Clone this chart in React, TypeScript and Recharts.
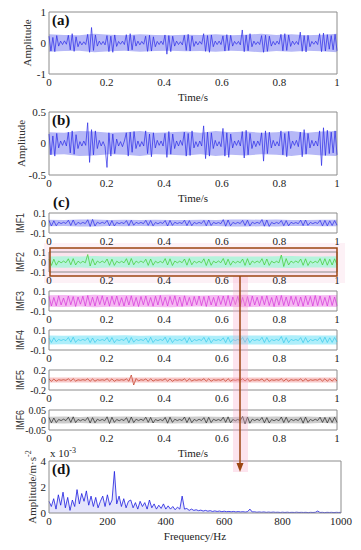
import { ComposedChart, Line, Area, XAxis, YAxis, ReferenceArea } from "recharts";

const serif = "'Liberation Serif', 'Times New Roman', serif";
const sans = "'Liberation Sans', Arial, sans-serif";

const timeTicks = [0, 0.2, 0.4, 0.6, 0.8, 1];
const freqTicks = [0, 200, 400, 600, 800, 1000];

// (a) raw signal, 15 impact bursts per second (one row per burst)
const sigA = [
  0.22, -0.26, 0.18, -0.28, 0.24, -0.1, 0.06, -0.05, 0.07, -0.04,
  0.25, -0.22, 0.3, -0.27, 0.2, -0.12, 0.05, -0.06, 0.04, -0.05,
  0.28, -0.3, 0.5, -0.24, 0.26, -0.1, 0.06, -0.05, 0.05, -0.06,
  0.24, -0.28, 0.22, -0.3, 0.26, -0.11, 0.05, -0.04, 0.06, -0.05,
  0.27, -0.25, 0.3, -0.22, 0.24, -0.1, 0.06, -0.06, 0.05, -0.04,
  0.22, -0.27, 0.25, -0.26, 0.2, -0.12, 0.05, -0.05, 0.06, -0.05,
  0.26, -0.36, 0.24, -0.28, 0.22, -0.1, 0.06, -0.05, 0.04, -0.06,
  0.25, -0.24, 0.28, -0.26, 0.23, -0.11, 0.05, -0.06, 0.05, -0.04,
  0.3, -0.27, 0.24, -0.3, 0.26, -0.12, 0.06, -0.05, 0.06, -0.05,
  0.23, -0.26, 0.27, -0.24, 0.25, -0.1, 0.05, -0.04, 0.05, -0.06,
  0.42, -0.28, 0.26, -0.25, 0.3, -0.12, 0.06, -0.05, 0.04, -0.05,
  0.24, -0.3, 0.25, -0.27, 0.22, -0.1, 0.05, -0.06, 0.06, -0.04,
  0.28, -0.25, 0.3, -0.24, 0.26, -0.11, 0.06, -0.05, 0.05, -0.05,
  0.35, -0.27, 0.24, -0.29, 0.25, -0.12, 0.05, -0.04, 0.06, -0.05,
  0.3, -0.28, 0.32, -0.26, 0.27, -0.2, 0.24, -0.22, 0.28, -0.25,
];
const envA = [0.28, 0.26, 0.25, 0.3, 0.27, 0.25, 0.28, 0.26, 0.25, 0.27, 0.26, 0.28, 0.25, 0.27, 0.3, 0.26, 0.28, 0.25, 0.27, 0.3];

// (b) denoised signal
const sigB = [
  0.15, -0.18, 0.12, -0.2, 0.16, -0.07, 0.04, -0.03, 0.05, -0.04,
  0.18, -0.15, 0.2, -0.17, 0.14, -0.08, 0.03, -0.04, 0.04, -0.03,
  0.33, -0.3, 0.22, -0.18, 0.2, -0.08, 0.05, -0.04, 0.03, -0.05,
  -0.38, 0.17, -0.2, 0.15, -0.16, 0.07, -0.04, 0.03, -0.05, 0.04,
  0.17, -0.2, 0.18, -0.14, 0.19, -0.08, 0.04, -0.05, 0.03, -0.04,
  0.2, -0.16, 0.15, -0.21, 0.17, -0.07, 0.05, -0.03, 0.04, -0.04,
  0.16, -0.22, 0.19, -0.17, 0.15, -0.08, 0.04, -0.04, 0.05, -0.03,
  0.18, -0.2, 0.16, -0.19, 0.2, -0.07, 0.03, -0.05, 0.04, -0.04,
  0.28, -0.24, 0.18, -0.2, 0.17, -0.08, 0.05, -0.04, 0.03, -0.05,
  0.24, -0.2, 0.17, -0.22, 0.15, -0.07, 0.04, -0.03, 0.05, -0.04,
  0.19, -0.23, 0.21, -0.18, 0.16, -0.08, 0.04, -0.05, 0.04, -0.03,
  0.17, -0.28, 0.2, -0.16, 0.18, -0.07, 0.05, -0.04, 0.03, -0.04,
  0.2, -0.18, 0.16, -0.21, 0.19, -0.08, 0.04, -0.03, 0.05, -0.05,
  0.18, -0.21, 0.22, -0.17, 0.16, -0.07, 0.05, -0.04, 0.04, -0.04,
  0.2, -0.35, 0.25, -0.19, 0.21, -0.16, 0.18, -0.15, 0.2, -0.18,
];
const envB = [0.18, 0.17, 0.2, 0.19, 0.17, 0.18, 0.2, 0.17, 0.18, 0.19, 0.17, 0.2, 0.18, 0.19, 0.17, 0.18, 0.2, 0.17, 0.19, 0.2];

// (c) IMF components
const imf1 = [
  0.025, -0.03, 0.022, -0.028, 0.008, -0.006, 0.007, -0.005,
  0.028, -0.025, 0.03, -0.022, 0.007, -0.008, 0.006, -0.006,
  0.032, -0.035, 0.036, -0.03, 0.008, -0.006, 0.007, -0.005,
  0.026, -0.028, 0.024, -0.03, 0.006, -0.007, 0.005, -0.006,
  0.024, -0.026, 0.028, -0.022, 0.007, -0.006, 0.006, -0.007,
  0.027, -0.024, 0.025, -0.028, 0.006, -0.008, 0.007, -0.005,
  0.025, -0.03, 0.026, -0.024, 0.008, -0.006, 0.005, -0.006,
  0.028, -0.026, 0.024, -0.027, 0.006, -0.007, 0.006, -0.005,
  0.026, -0.028, 0.03, -0.025, 0.007, -0.006, 0.005, -0.007,
  0.034, -0.032, 0.03, -0.028, 0.006, -0.007, 0.006, -0.006,
  0.027, -0.025, 0.028, -0.03, 0.008, -0.006, 0.007, -0.005,
  0.035, -0.032, 0.03, -0.034, 0.006, -0.008, 0.006, -0.006,
  0.025, -0.027, 0.024, -0.028, 0.007, -0.006, 0.005, -0.007,
  0.028, -0.026, 0.03, -0.024, 0.006, -0.007, 0.006, -0.005,
  0.027, -0.029, 0.026, -0.028, 0.022, -0.025, 0.024, -0.022,
];
const env1 = [0.032, 0.03, 0.034, 0.036, 0.03, 0.032, 0.03, 0.033, 0.03, 0.031, 0.032, 0.03, 0.034, 0.036, 0.032, 0.034, 0.031, 0.03, 0.032, 0.033];

const imf2 = [
  0.03, -0.034, 0.028, -0.032, 0.01, -0.008, 0.009, -0.007,
  0.032, -0.028, 0.034, -0.03, 0.008, -0.01, 0.007, -0.008,
  0.075, -0.04, 0.032, -0.03, 0.01, -0.008, 0.009, -0.007,
  0.03, -0.033, 0.028, -0.034, 0.008, -0.009, 0.007, -0.008,
  0.033, -0.03, 0.035, -0.028, 0.009, -0.008, 0.01, -0.007,
  0.028, -0.034, 0.03, -0.032, 0.008, -0.01, 0.007, -0.009,
  0.034, -0.03, 0.032, -0.035, 0.01, -0.008, 0.008, -0.007,
  0.03, -0.032, 0.034, -0.028, 0.008, -0.009, 0.007, -0.008,
  0.032, -0.035, 0.03, -0.033, 0.009, -0.008, 0.01, -0.007,
  0.035, -0.03, 0.028, -0.032, 0.008, -0.01, 0.007, -0.008,
  0.03, -0.034, 0.033, -0.03, 0.01, -0.008, 0.009, -0.007,
  0.033, -0.03, 0.03, -0.034, 0.008, -0.009, 0.007, -0.008,
  0.07, -0.045, 0.034, -0.03, 0.009, -0.008, 0.01, -0.007,
  0.03, -0.033, 0.032, -0.035, 0.008, -0.01, 0.007, -0.008,
  0.034, -0.03, 0.033, -0.032, 0.028, -0.03, 0.032, -0.028,
];
const env2 = [0.055, 0.058, 0.054, 0.06, 0.056, 0.055, 0.058, 0.054, 0.057, 0.055, 0.056, 0.058, 0.054, 0.056, 0.055, 0.057, 0.06, 0.055, 0.056, 0.058];

const imf3 = [
  0.045, -0.05, 0.035, -0.048, 0.052, -0.04, 0.03, -0.046,
  0.05, -0.038, 0.044, -0.055, 0.04, -0.032, 0.048, -0.05,
  0.055, -0.045, 0.038, -0.05, 0.046, -0.036, 0.052, -0.042,
  0.04, -0.052, 0.048, -0.035, 0.05, -0.045, 0.034, -0.05,
  0.046, -0.04, 0.052, -0.048, 0.036, -0.055, 0.045, -0.038,
  0.05, -0.046, 0.035, -0.052, 0.048, -0.04, 0.055, -0.045,
  0.038, -0.05, 0.046, -0.036, 0.052, -0.048, 0.04, -0.054,
  0.052, -0.042, 0.036, -0.05, 0.045, -0.038, 0.05, -0.046,
  0.044, -0.055, 0.05, -0.04, 0.036, -0.05, 0.048, -0.035,
  0.05, -0.045, 0.055, -0.048, 0.04, -0.036, 0.046, -0.052,
  0.036, -0.05, 0.045, -0.052, 0.05, -0.04, 0.038, -0.048,
  0.048, -0.038, 0.052, -0.045, 0.035, -0.055, 0.05, -0.042,
  0.055, -0.046, 0.04, -0.05, 0.048, -0.036, 0.044, -0.05,
  0.04, -0.052, 0.05, -0.038, 0.045, -0.05, 0.055, -0.046,
  0.05, -0.044, 0.036, -0.05, 0.052, -0.045, 0.04, -0.048,
];
const env3 = [0.058, 0.06, 0.056, 0.062, 0.058, 0.06, 0.057, 0.06, 0.062, 0.058, 0.056, 0.06, 0.058, 0.062, 0.057, 0.06, 0.058, 0.061, 0.057, 0.06];

const imf4 = [
  0.02, -0.025, 0.022, -0.018, 0.006, -0.005, 0.005, -0.006,
  0.025, -0.022, 0.028, -0.024, 0.005, -0.006, 0.006, -0.005,
  0.022, -0.026, 0.02, -0.025, 0.006, -0.005, 0.005, -0.006,
  0.026, -0.02, 0.024, -0.027, 0.005, -0.006, 0.006, -0.005,
  0.024, -0.028, 0.025, -0.022, 0.006, -0.005, 0.005, -0.006,
  0.02, -0.024, 0.027, -0.025, 0.005, -0.006, 0.006, -0.005,
  0.028, -0.025, 0.022, -0.026, 0.006, -0.005, 0.005, -0.006,
  0.023, -0.027, 0.025, -0.02, 0.005, -0.006, 0.006, -0.005,
  0.026, -0.022, 0.024, -0.028, 0.006, -0.005, 0.005, -0.006,
  0.022, -0.026, 0.028, -0.024, 0.005, -0.006, 0.006, -0.005,
  0.025, -0.023, 0.022, -0.026, 0.006, -0.005, 0.005, -0.006,
  0.027, -0.025, 0.026, -0.022, 0.005, -0.006, 0.006, -0.005,
  0.035, -0.028, 0.024, -0.026, 0.006, -0.005, 0.005, -0.006,
  0.024, -0.027, 0.025, -0.023, 0.005, -0.006, 0.006, -0.005,
  0.026, -0.024, 0.028, -0.025, 0.022, -0.024, 0.025, -0.02,
];
const env4 = [0.045, 0.043, 0.046, 0.044, 0.045, 0.047, 0.043, 0.045, 0.044, 0.046, 0.045, 0.043, 0.045, 0.046, 0.044, 0.045, 0.047, 0.044, 0.045, 0.046];

const imf5 = [
  0.02, -0.025, 0.018, -0.022, 0.006, -0.005, 0.005, -0.006,
  0.024, -0.02, 0.026, -0.022, 0.005, -0.006, 0.006, -0.005,
  0.022, -0.025, 0.02, -0.024, 0.006, -0.005, 0.005, -0.006,
  0.025, -0.02, 0.023, -0.026, 0.005, -0.006, 0.006, -0.005,
  0.022, -0.024, 0.1, -0.1, 0.03, -0.02, 0.006, -0.005,
  0.02, -0.024, 0.025, -0.022, 0.005, -0.006, 0.006, -0.005,
  0.024, -0.022, 0.02, -0.025, 0.006, -0.005, 0.005, -0.006,
  0.022, -0.026, 0.024, -0.02, 0.005, -0.006, 0.006, -0.005,
  0.025, -0.022, 0.022, -0.024, 0.006, -0.005, 0.005, -0.006,
  0.02, -0.025, 0.026, -0.022, 0.005, -0.006, 0.006, -0.005,
  0.024, -0.02, 0.022, -0.025, 0.006, -0.005, 0.005, -0.006,
  0.022, -0.024, 0.025, -0.021, 0.005, -0.006, 0.006, -0.005,
  0.025, -0.022, 0.02, -0.024, 0.006, -0.005, 0.005, -0.006,
  0.021, -0.025, 0.024, -0.022, 0.005, -0.006, 0.006, -0.005,
  0.024, -0.022, 0.025, -0.024, 0.02, -0.022, 0.024, -0.02,
];
const env5 = [0.05, 0.048, 0.052, 0.05, 0.049, 0.051, 0.05, 0.048, 0.05, 0.052, 0.049, 0.05, 0.051, 0.048, 0.05, 0.052, 0.049, 0.05, 0.051, 0.05];

const imf6 = [
  0.012, -0.014, 0.01, -0.013, 0.003, -0.003, 0.004, -0.003,
  0.014, -0.012, 0.016, -0.013, 0.003, -0.004, 0.003, -0.003,
  0.013, -0.015, 0.012, -0.014, 0.004, -0.003, 0.003, -0.004,
  0.016, -0.018, 0.014, -0.012, 0.003, -0.004, 0.003, -0.003,
  0.012, -0.014, 0.015, -0.013, 0.004, -0.003, 0.004, -0.003,
  0.014, -0.012, 0.013, -0.015, 0.003, -0.004, 0.003, -0.004,
  0.013, -0.016, 0.014, -0.012, 0.004, -0.003, 0.003, -0.003,
  0.015, -0.013, 0.012, -0.014, 0.003, -0.004, 0.004, -0.003,
  0.012, -0.015, 0.014, -0.013, 0.004, -0.003, 0.003, -0.004,
  0.014, -0.012, 0.016, -0.014, 0.003, -0.004, 0.003, -0.003,
  0.018, -0.02, 0.015, -0.016, 0.004, -0.003, 0.004, -0.003,
  0.013, -0.014, 0.012, -0.015, 0.003, -0.004, 0.003, -0.004,
  0.015, -0.013, 0.014, -0.012, 0.004, -0.003, 0.003, -0.003,
  0.012, -0.016, 0.015, -0.013, 0.003, -0.004, 0.004, -0.003,
  0.014, -0.012, 0.013, -0.015, 0.012, -0.013, 0.014, -0.012,
];
const env6 = [0.016, 0.017, 0.015, 0.018, 0.016, 0.017, 0.016, 0.015, 0.017, 0.016, 0.018, 0.016, 0.015, 0.017, 0.016, 0.018, 0.016, 0.017, 0.015, 0.017];

// (d) spectrum of IMF2, amplitude x 10^-3, one value every 8 Hz
const spec = [
  0.9, 0.5, 1.1, 0.3, 1.4, 0.6, 1.6, 0.4, 1.2, 0.2,
  1.0, 0.5, 1.8, 0.7, 1.5, 0.9, 1.7, 0.6, 1.3, 0.5,
  1.2, 0.4, 0.9, 1.3, 0.5, 1.4, 0.6, 1.0, 3.2, 0.7,
  1.3, 0.5, 1.1, 0.4, 0.9, 1.0, 0.4, 0.8, 0.3, 0.9,
  0.5, 0.8, 0.3, 1.0, 0.4, 0.7, 0.3, 0.6, 0.35, 0.7,
  0.3, 0.55, 0.3, 0.5, 0.25, 0.45, 0.3, 1.3, 0.3, 0.35,
  0.2, 0.3, 0.2, 0.25, 0.18, 0.22, 0.15, 0.2, 0.14, 0.18,
  0.12, 0.16, 0.12, 0.15, 0.1, 0.14, 0.1, 0.12, 0.09, 0.12,
  0.08, 0.11, 0.08, 0.1, 0.07, 0.1, 0.3, 0.08, 0.09, 0.06,
  0.08, 0.06, 0.08, 0.05, 0.07, 0.05, 0.07, 0.05, 0.06, 0.04,
  0.06, 0.04, 0.06, 0.04, 0.05, 0.04, 0.06, 0.04, 0.05, 0.04,
  0.05, 0.03, 0.05, 0.04, 0.05, 0.15, 0.04, 0.05, 0.03, 0.05,
  0.04, 0.05, 0.03, 0.05, 0.04, 0.05,
];

const xTick = { fontSize: 11, fill: "#222", fontFamily: serif };

function yTitle(text: string, x: number, cy: number, isSans: boolean) {
  return {
    content: () => (
      <text
        x={x}
        y={cy}
        transform={`rotate(-90 ${x} ${cy})`}
        textAnchor="middle"
        dominantBaseline="central"
        fontSize={isSans ? 11.5 : 11}
        fontFamily={isSans ? sans : serif}
        fill="#333"
        textLength={isSans ? 20 : undefined}
        lengthAdjust="spacingAndGlyphs"
      >
        {text}
      </text>
    ),
  };
}

type TraceProps = {
  top: number;
  boxH: number;
  sig: number[];
  env: number[];
  yMax: number;
  yTicks: number[];
  line: string;
  band: string;
  title: string;
  titleX: number;
  isSans?: boolean;
  timeTitle?: boolean;
};

function Trace({ top, boxH, sig, env, yMax, yTicks, line, band, title, titleX, isSans, timeTitle }: TraceProps) {
  const mt = 8;
  const axisH = timeTitle ? 30 : 16;
  const sigData = sig.map((v, i) => ({ t: i / (sig.length - 1), v }));
  const envData = env.map((e, i) => ({ t: i / (env.length - 1), r: [-e, e] }));
  const yFont = boxH < 30 ? 10 : 11;
  return (
    <div style={{ position: "absolute", left: 0, top: top - mt }}>
      <ComposedChart
        width={361}
        height={mt + boxH + axisH}
        margin={{ top: mt, right: 24, bottom: 0, left: 0 }}
        style={{ fontFamily: serif }}
      >
        <XAxis
          type="number"
          dataKey="t"
          domain={[0, 1]}
          ticks={timeTicks}
          interval={0}
          axisLine={false}
          tickLine={false}
          tickSize={2}
          tickMargin={2}
          height={axisH}
          tick={xTick}
          label={timeTitle ? { value: "Time/s", position: "insideBottom", offset: 3, fontSize: 11, fontFamily: serif, fill: "#222" } : undefined}
        />
        <YAxis
          type="number"
          domain={[-yMax, yMax]}
          ticks={yTicks}
          interval={0}
          width={49}
          axisLine={false}
          tickLine={false}
          tickSize={2}
          tickMargin={1}
          tick={{ fontSize: yFont, fill: "#222", fontFamily: serif }}
          label={yTitle(title, titleX, mt + boxH / 2, !!isSans)}
        />
        <Area data={envData} dataKey="r" type="linear" stroke="none" fill={band} fillOpacity={1} isAnimationActive={false} />
        <Line data={sigData} dataKey="v" type="linear" stroke={line} strokeWidth={0.7} dot={false} isAnimationActive={false} />
        <ReferenceArea x1={0} x2={1} y1={-yMax} y2={yMax} fill="none" stroke="#8c8c8c" strokeWidth={1} />
      </ComposedChart>
    </div>
  );
}

function Spectrum() {
  const mt = 18;
  const data = spec.map((a, i) => ({ f: i * 8, a }));
  return (
    <div style={{ position: "absolute", left: 0, top: 461 - mt }}>
      <ComposedChart
        width={361}
        height={mt + 52 + 30}
        margin={{ top: mt, right: 20, bottom: 0, left: 0 }}
        style={{ fontFamily: serif }}
      >
        <XAxis
          type="number"
          dataKey="f"
          domain={[0, 1000]}
          ticks={freqTicks}
          interval={0}
          axisLine={false}
          tickLine={false}
          tickSize={2}
          tickMargin={2}
          height={30}
          tick={xTick}
          label={{ value: "Frequency/Hz", position: "insideBottom", offset: 3, fontSize: 11, fontFamily: serif, fill: "#222" }}
        />
        <YAxis
          type="number"
          domain={[0, 4]}
          ticks={[0, 2, 4]}
          interval={0}
          width={49}
          axisLine={false}
          tickLine={false}
          tickSize={2}
          tickMargin={1}
          tick={xTick}
          label={{
            content: () => (
              <text
                x={32}
                y={mt + 26}
                transform={`rotate(-90 32 ${mt + 26})`}
                textAnchor="middle"
                dominantBaseline="central"
                fontSize={11}
                fontFamily={serif}
                fill="#333"
              >
                Amplitude/m·s<tspan fontSize={8} dy={-4}>-2</tspan>
              </text>
            ),
          }}
        />
        <Area data={data} dataKey="a" type="linear" stroke="#1c1ce0" strokeWidth={0.8} fill="#d2d2f8" fillOpacity={0.6} isAnimationActive={false} />
        <ReferenceArea x1={0} x2={1000} y1={0} y2={4} fill="none" stroke="#8c8c8c" strokeWidth={1} />
      </ComposedChart>
    </div>
  );
}

export default function App() {
  const brown = "#9c4612";
  return (
    <div style={{ position: "absolute", left: 0, top: 0, width: 361, height: 550, background: "#fff", fontFamily: serif }}>
      <svg width={361} height={550} style={{ position: "absolute", left: 0, top: 0 }}>
        <rect x={44} y={243} width={301} height={40} fill="#fdf1f6" />
        <rect x={50} y={248} width={287} height={28} fill="#fbe4ee" />
      </svg>

      <Trace top={12} boxH={62} sig={sigA} env={envA} yMax={1} yTicks={[-1, 0, 1]} line="#2a2ae6" band="#b6b8f7" title="Amplitude" titleX={27} timeTitle />
      <Trace top={112} boxH={63} sig={sigB} env={envB} yMax={0.5} yTicks={[-0.5, 0, 0.5]} line="#2a2ae6" band="#b6b8f7" title="Amplitude" titleX={21} timeTitle />
      <Trace top={213} boxH={20} sig={imf1} env={env1} yMax={0.1} yTicks={[-0.1, 0, 0.1]} line="#2a2ae6" band="#b8baf7" title="IMF1" titleX={20} isSans />
      <Trace top={252} boxH={20} sig={imf2} env={env2} yMax={0.1} yTicks={[-0.1, 0, 0.1]} line="#3ccc2c" band="#b5f3dc" title="IMF2" titleX={20} isSans />
      <Trace top={291} boxH={20} sig={imf3} env={env3} yMax={0.1} yTicks={[-0.1, 0, 0.1]} line="#d433d8" band="#f5b8f2" title="IMF3" titleX={20} isSans />
      <Trace top={330} boxH={20} sig={imf4} env={env4} yMax={0.1} yTicks={[-0.1, 0, 0.1]} line="#35c8ea" band="#adeefa" title="IMF4" titleX={20} isSans />
      <Trace top={370} boxH={20} sig={imf5} env={env5} yMax={0.2} yTicks={[-0.2, 0, 0.2]} line="#c0321a" band="#f7c6c6" title="IMF5" titleX={20} isSans />
      <Trace top={410} boxH={20} sig={imf6} env={env6} yMax={0.05} yTicks={[-0.05, 0, 0.05]} line="#262626" band="#cbcbcb" title="IMF6" titleX={20} isSans timeTitle />
      <Spectrum />

      <svg width={361} height={550} style={{ position: "absolute", left: 0, top: 0, pointerEvents: "none" }}>
        <rect x={233} y={276} width={15} height={196} fill="#f7a6c8" fillOpacity={0.3} />
        <rect x={50} y={248} width={287} height={28} fill="none" stroke={brown} strokeWidth={1.5} />
        <line x1={240} y1={276} x2={240} y2={464} stroke={brown} strokeWidth={1.5} />
        <polygon points="236.5,463 243.5,463 240,472" fill={brown} />
        <g fontFamily={serif} fontWeight="bold" fontSize={15} fill="#111">
          <text x={52} y={25}>(a)</text>
          <text x={52} y={125}>(b)</text>
          <text x={53} y={207}>(c)</text>
          <text x={52} y={474}>(d)</text>
        </g>
        <text x={50} y={457} fontFamily={serif} fontSize={11} fill="#222">
          x 10<tspan fontSize={8} dy={-4}>-3</tspan>
        </text>
      </svg>
    </div>
  );
}
